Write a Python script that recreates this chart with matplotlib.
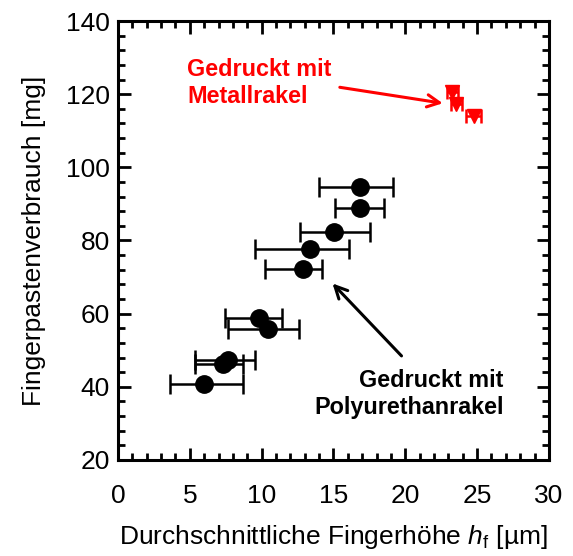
import matplotlib
matplotlib.use("Agg")
import matplotlib.pyplot as plt
from matplotlib.ticker import MultipleLocator
import numpy as np

plt.rcParams['font.family'] = ['Liberation Sans', 'DejaVu Sans']
plt.rcParams['mathtext.fontset'] = 'custom'
plt.rcParams['mathtext.it'] = 'Liberation Sans:italic'
plt.rcParams['mathtext.rm'] = 'Liberation Sans'

# Polyurethane squeegee (black)
pu_x = [16.82, 16.82, 15.07, 13.38, 12.9, 9.82, 10.47, 7.68, 7.33, 5.99]
pu_y = [94.5, 88.8, 82.4, 77.6, 72.2, 58.7, 55.7, 47.3, 46.2, 40.8]
pu_xlo = [13.99, 15.08, 12.68, 9.52, 10.24, 7.45, 7.68, 5.35, 5.35, 3.61]
pu_xhi = [19.12, 18.49, 17.57, 16.05, 14.2, 11.4, 12.63, 9.54, 8.68, 8.68]

# Metal squeegee (red)
me_x = [23.28, 23.55, 24.77]
me_y = [120.6, 117.4, 114.0]
me_xlo = [22.93, 23.2, 24.26]
me_xhi = [23.7, 23.95, 25.3]

fig = plt.figure(figsize=(5.73, 5.56), dpi=100)
ax = fig.add_axes([0.206, 0.1727, 0.752, 0.7895])

pu_x = np.array(pu_x); pu_y = np.array(pu_y)
me_x = np.array(me_x); me_y = np.array(me_y)
pu_err = [pu_x - np.array(pu_xlo), np.array(pu_xhi) - pu_x]
me_err = [me_x - np.array(me_xlo), np.array(me_xhi) - me_x]

ax.errorbar(pu_x, pu_y, xerr=pu_err, fmt='o', color='black', ms=12.5,
            elinewidth=1.8, capsize=7, capthick=1.8, zorder=3)
ax.errorbar(me_x, me_y, xerr=me_err, fmt='v', color='#ff0000', ms=9.5,
            elinewidth=1.8, capsize=5, capthick=1.8, zorder=3)

ax.set_xlim(0, 30)
ax.set_ylim(20, 140)
ax.xaxis.set_major_locator(MultipleLocator(5))
ax.xaxis.set_minor_locator(MultipleLocator(1))
ax.yaxis.set_major_locator(MultipleLocator(20))
ax.yaxis.set_minor_locator(MultipleLocator(4))
ax.tick_params(which='both', direction='in', top=True, right=True, width=2)
ax.tick_params(which='major', length=9, labelsize=19)
ax.tick_params(axis='x', which='major', pad=17)
ax.tick_params(axis='y', which='major', pad=6)
ax.tick_params(which='minor', length=5)
for s in ax.spines.values():
    s.set_linewidth(2.2)

ax.set_xlabel('Durchschnittliche Fingerhöhe $h_\\mathrm{f}$ [µm]', fontsize=19, labelpad=11)
ax.set_ylabel('Fingerpastenverbrauch [mg]', fontsize=19, labelpad=14)

ax.text(4.8, 123, 'Gedruckt mit\nMetallrakel', color='#ff0000', fontsize=16.8,
        fontweight='bold', ha='left', va='center', linespacing=1.2)
ax.annotate('', xy=(22.8, 117.4), xytext=(15.25, 122.0),
            arrowprops=dict(arrowstyle='->', color='#ff0000', lw=2.2,
                            mutation_scale=22))

ax.text(26.85, 38, 'Gedruckt mit\nPolyurethanrakel', color='black', fontsize=16.8,
        fontweight='bold', ha='right', va='center', linespacing=1.2,
        multialignment='right')
ax.annotate('', xy=(14.8, 68.8), xytext=(19.87, 47.9),
            arrowprops=dict(arrowstyle='->', color='black', lw=2.2,
                            mutation_scale=22))

fig.savefig('out.png', dpi=100)
